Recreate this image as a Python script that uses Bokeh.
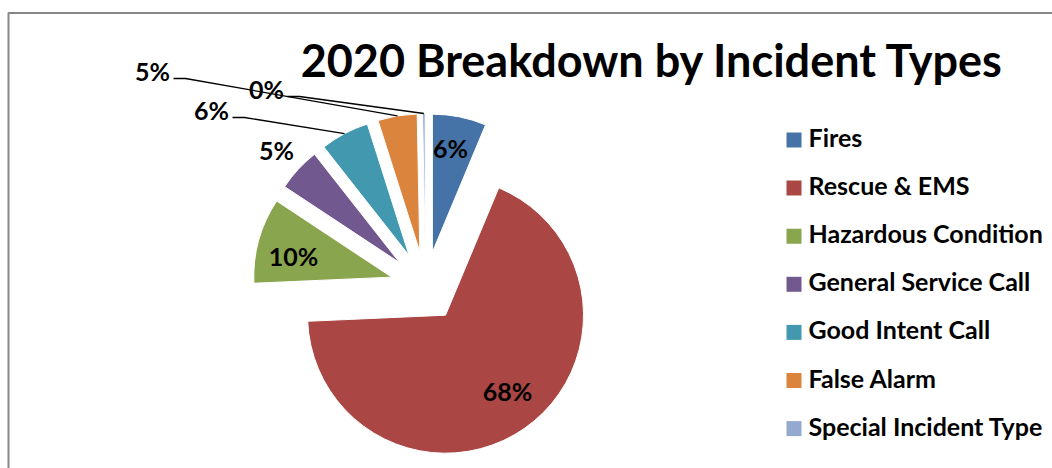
import math
from bokeh.plotting import figure
from bokeh.models import Range1d, ColumnDataSource, Label
from bokeh.core.properties import value
from bokeh.embed import file_html
from bokeh.resources import INLINE

# ---------------- data ----------------
title_text = "2020 Breakdown by Incident Types"
categories = ["Fires", "Rescue & EMS", "Hazardous Condition", "General Service Call",
              "Good Intent Call", "False Alarm", "Special Incident Type"]
percentages = [6.3, 68.0, 10.0, 5.1, 5.7, 4.6, 0.3]
colors = ["#4572A7", "#AA4643", "#89A54E", "#71588F", "#4198AF", "#DB843D", "#93A9CF"]

# ---------------- layout ----------------
W, H = 1052, 468
FONT = "Lato"
MID_FIX = 3  # 'middle' baseline renders a few px low


def sy(y):
    return H - y


CX, CY = 425, sy(286)
R = 138
EXPLODE = 35
# label centres (screen px) per slice
LABEL_POS = [(450, 150), (507, 393), (293, 258), (276, 152), (211, 112), (152, 73), (266, 91)]
LEADER = [4, 5, 6]
LABEL_SIZE = "25px"
LEGEND_SIZE = "25px"

p = figure(width=W, height=H, output_backend="svg", toolbar_location=None,
           x_range=Range1d(0, W), y_range=Range1d(0, H), min_border=0,
           background_fill_color="white", border_fill_color="white")
p.axis.visible = False
p.grid.visible = False
p.outline_line_color = None

# chart border (cropped frame)
p.line([8, 8, W + 10], [sy(H + 10), sy(12.5), sy(12.5)], line_color="#878787", line_width=2)

# wedges
total = sum(percentages)
cum = 0.0
starts, ends, mids, xs, ys, labels = [], [], [], [], [], []
for v in percentages:
    a0 = cum / total
    cum += v
    a1 = cum / total
    s = math.pi / 2 - 2 * math.pi * a0
    e = math.pi / 2 - 2 * math.pi * a1
    m = (s + e) / 2
    starts.append(s)
    ends.append(e)
    mids.append(m)
    xs.append(CX + EXPLODE * math.cos(m))
    ys.append(CY + EXPLODE * math.sin(m))
    labels.append(f"{v:.0f}%")

src = ColumnDataSource(dict(x=xs, y=ys, start=starts, end=ends, color=colors))
p.wedge(x="x", y="y", radius=R, start_angle="start", end_angle="end",
        direction="clock", fill_color="color", line_color="white", line_width=1, source=src)

# leader lines
lead_x, lead_y = [], []
for i in LEADER:
    px, py = LABEL_POS[i]
    ex = xs[i] + R * math.cos(mids[i])
    ey = ys[i] + R * math.sin(mids[i])
    lead_x.append([px + 21, px + 33, ex])
    lead_y.append([sy(py + 5), sy(py + 5), ey])
p.multi_line(lead_x, lead_y, line_color="black", line_width=1.3)

# percent labels
p.text(x=[q[0] for q in LABEL_POS], y=[sy(q[1] - MID_FIX) for q in LABEL_POS], text=labels,
       text_font=value(FONT), text_font_style="bold",
       text_font_size=LABEL_SIZE, text_align="center", text_baseline="middle",
       text_color="black")

# legend
ROW0, ROWSTEP = 139.5, 48.1
rows = [ROW0 + ROWSTEP * i for i in range(len(categories))]
p.rect(x=[793.5] * len(categories), y=[sy(r) for r in rows], width=15, height=15,
       fill_color=colors, line_color=None)
p.text(x=[808] * len(categories), y=[sy(r - MID_FIX) for r in rows], text=categories,
       text_font=value(FONT), text_font_style="bold", text_font_size=LEGEND_SIZE,
       text_align="left", text_baseline="middle", text_color="black")

# title
p.add_layout(Label(x=652, y=sy(64.5 - 5), text=title_text, text_font=FONT,
                   text_font_style="bold", text_font_size="45px",
                   text_align="center", text_baseline="middle", text_color="black"))

open("out.html", "w").write(file_html(p, INLINE))
